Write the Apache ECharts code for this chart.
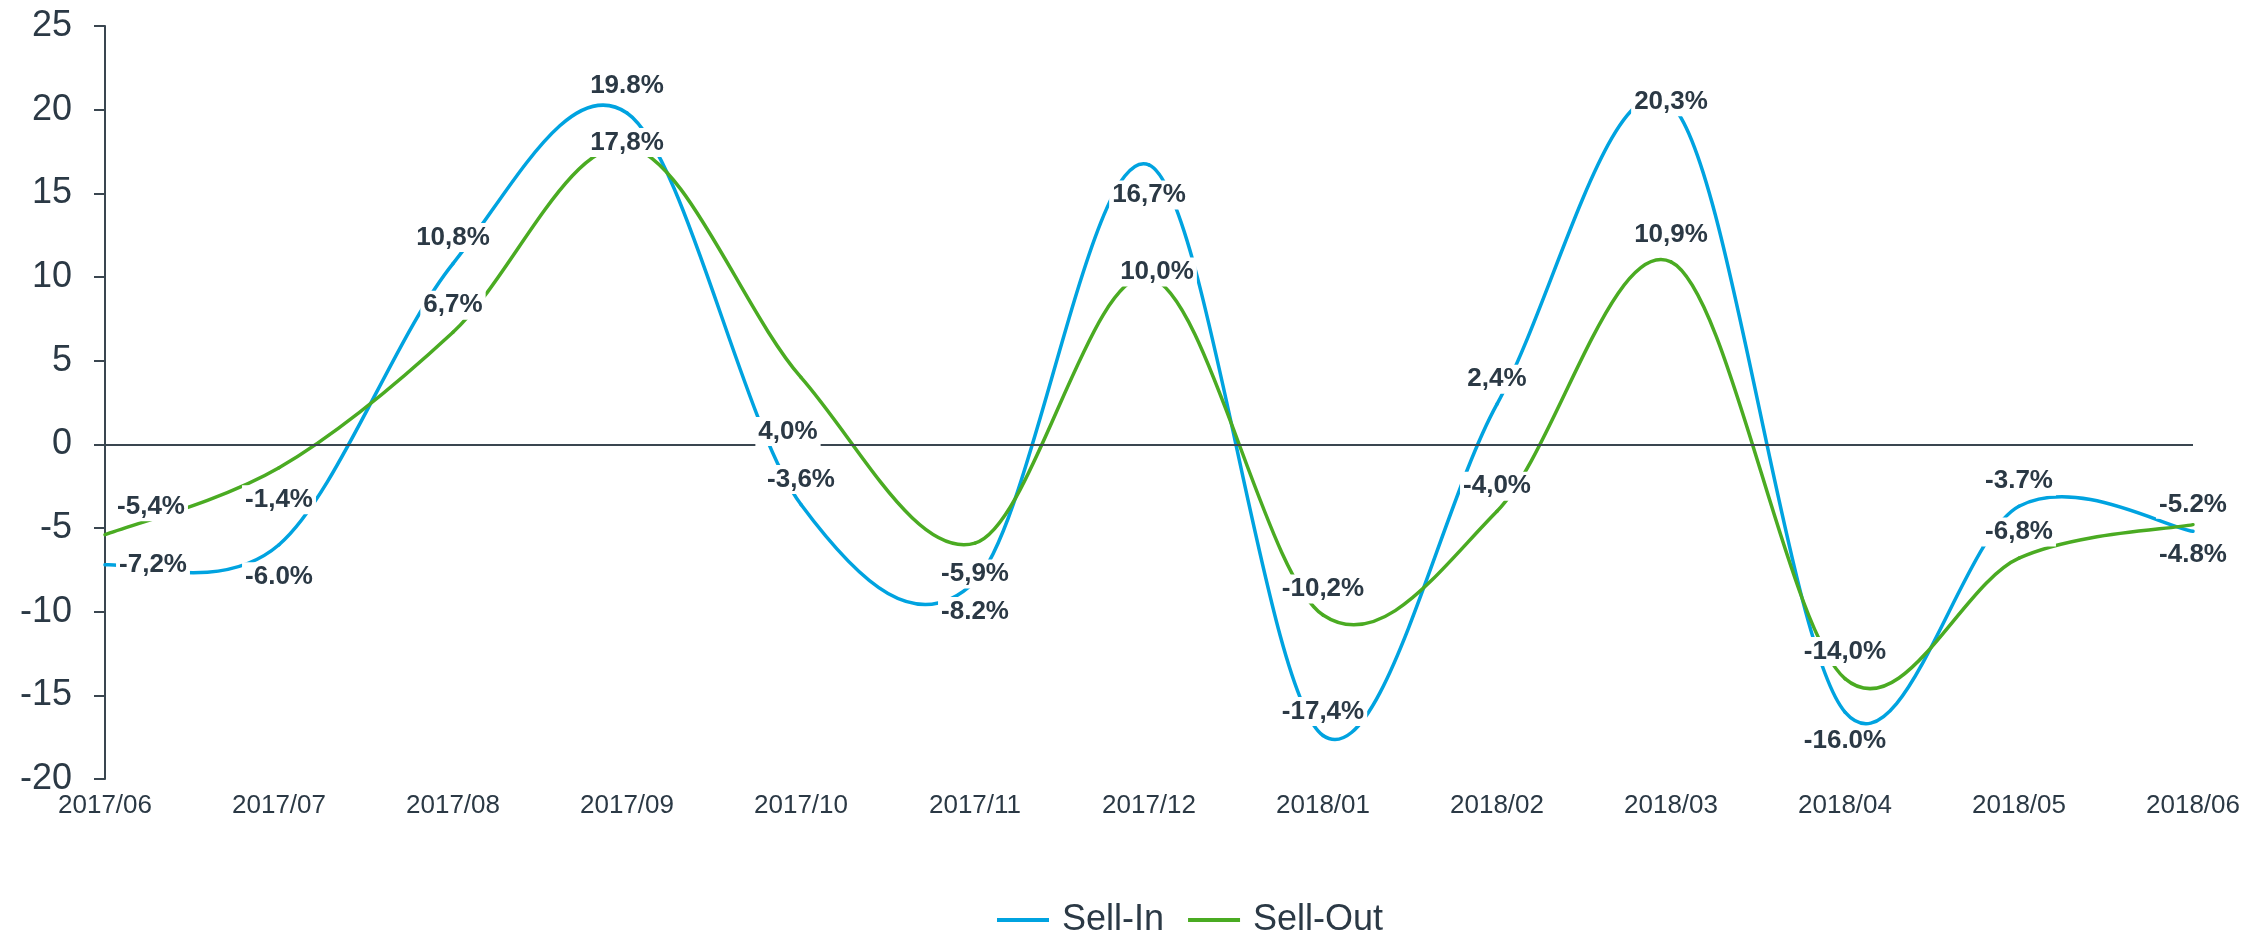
<!DOCTYPE html>
<html>
<head>
<meta charset="utf-8">
<script src="https://cdn.jsdelivr.net/npm/echarts@6/dist/echarts.min.js"></script>
<style>
html,body{margin:0;padding:0;background:#fff;}
#chart{width:2262px;height:935px;}
</style>
</head>
<body>
<div id="chart"></div>
<script>
// ---- data ----
var categories = ['2017/06','2017/07','2017/08','2017/09','2017/10','2017/11','2017/12','2018/01','2018/02','2018/03','2018/04','2018/05','2018/06'];
var sellIn  = [-7.2, -6.0, 10.8, 19.8, -3.6, -8.2, 16.7, -17.4, 2.4, 20.3, -16.0, -3.7, -5.2];
var sellOut = [-5.4, -1.4, 6.7, 17.8, 4.0, -5.9, 10.0, -10.2, -4.0, 10.9, -14.0, -6.8, -4.8];
var sellInLabels  = ['-7,2%','-6.0%','10,8%','19.8%','-3,6%','-8.2%','16,7%','-17,4%','2,4%','20,3%','-16.0%','-3.7%','-5.2%'];
var sellOutLabels = ['-5,4%','-1,4%','6,7%','17,8%','4,0%','-5,9%','10,0%','-10,2%','-4,0%','10,9%','-14,0%','-6,8%','-4.8%'];
var yTicks = {min: -20, max: 25, interval: 5};

// ---- label placement (style: px offsets from each point) ----
var sellInOffsets  = [[48,0],[0,32],[0,-26],[0,-27],[0,-25],[0,30],[0,30],[0,-24],[0,-25],[0,-3],[0,29],[0,-25],[0,-27]];
var sellOutOffsets = [[46,-28],[0,32],[0,-27],[0,-4],[-13,54],[0,31],[8,-5],[0,-26],[0,-25],[0,-27],[0,-27],[0,-26],[0,30]];

var TEXT = '#2b3945';
var AXIS = '#3a4650';
var FONT = "'Liberation Sans', Arial, sans-serif";
var BLUE = '#00a3e0';
var GREEN = '#4aab22';

function buildLabelData(values, labels, offsets) {
  return values.map(function (v, i) {
    return {
      value: v,
      label: {position: 'inside', offset: offsets[i], formatter: labels[i]}
    };
  });
}

// Smooth curve (Catmull-Rom style bezier segments) placed through the axes' scales
function curveRenderer(values, color) {
  return function (params, api) {
    var i = params.dataIndex;
    var n = values.length;
    if (i >= n - 1) return null;
    var p0 = api.coord([Math.max(i - 1, 0), values[Math.max(i - 1, 0)]]);
    var p1 = api.coord([i, values[i]]);
    var p2 = api.coord([i + 1, values[i + 1]]);
    var p3 = api.coord([Math.min(i + 2, n - 1), values[Math.min(i + 2, n - 1)]]);
    var k = 1 / 6;
    return {
      type: 'bezierCurve',
      shape: {
        x1: p1[0], y1: p1[1],
        x2: p2[0], y2: p2[1],
        cpx1: p1[0] + (p2[0] - p0[0]) * k,
        cpy1: p1[1] + (p2[1] - p0[1]) * k,
        cpx2: p2[0] - (p3[0] - p1[0]) * k,
        cpy2: p2[1] - (p3[1] - p1[1]) * k
      },
      style: {stroke: color, lineWidth: 3.5, fill: null, lineCap: 'round'},
      silent: true
    };
  };
}

var labelStyle = {
  show: true,
  color: TEXT,
  fontFamily: FONT,
  fontWeight: 'bold',
  fontSize: 26,
  backgroundColor: '#ffffff',
  padding: [2, 3, 1, 3]
};

var chart = echarts.init(document.getElementById('chart'), null, {renderer: 'canvas'});
chart.setOption({
  backgroundColor: '#ffffff',
  animation: false,
  grid: {left: 105, right: 69, top: 26, bottom: 156, containLabel: false},
  legend: {
    left: 992,
    top: 897,
    icon: 'rect',
    itemWidth: 52,
    itemHeight: 4,
    itemGap: 24,
    textStyle: {color: TEXT, fontFamily: FONT, fontSize: 36, padding: [0, 0, 0, 8]},
    data: [{name: 'Sell-In', itemStyle: {color: BLUE}}, {name: 'Sell-Out', itemStyle: {color: GREEN}}]
  },
  xAxis: {
    type: 'category',
    data: categories,
    boundaryGap: false,
    axisLine: {show: false, onZero: false},
    axisTick: {show: false},
    splitLine: {show: false},
    axisLabel: {color: TEXT, fontFamily: FONT, fontSize: 26, margin: 14, interval: 0}
  },
  yAxis: {
    type: 'value',
    min: yTicks.min,
    max: yTicks.max,
    interval: yTicks.interval,
    axisLine: {show: true, lineStyle: {color: AXIS, width: 2}},
    axisTick: {show: true, length: 11, lineStyle: {color: AXIS, width: 2}},
    splitLine: {show: false},
    axisLabel: {color: TEXT, fontFamily: FONT, fontSize: 36, margin: 33}
  },
  series: [
    {
      name: 'Sell-In',
      type: 'custom',
      color: BLUE,
      clip: false,
      z: 2,
      renderItem: curveRenderer(sellIn, BLUE),
      data: sellIn.map(function (v, i) { return [i, v]; }),
      encode: {x: 0, y: 1},
      markLine: {
        silent: true,
        symbol: 'none',
        label: {show: false},
        lineStyle: {color: AXIS, width: 2, type: 'solid'},
        data: [{yAxis: 0}]
      }
    },
    {
      name: 'Sell-Out',
      type: 'custom',
      color: GREEN,
      clip: false,
      z: 3,
      renderItem: curveRenderer(sellOut, GREEN),
      data: sellOut.map(function (v, i) { return [i, v]; }),
      encode: {x: 0, y: 1}
    },
    {
      name: 'Sell-In',
      type: 'line',
      color: BLUE,
      symbol: 'circle',
      symbolSize: 1,
      showAllSymbol: true,
      lineStyle: {opacity: 0},
      label: labelStyle,
      data: buildLabelData(sellIn, sellInLabels, sellInOffsets),
      z: 10
    },
    {
      name: 'Sell-Out',
      type: 'line',
      color: GREEN,
      symbol: 'circle',
      symbolSize: 1,
      showAllSymbol: true,
      lineStyle: {opacity: 0},
      label: labelStyle,
      data: buildLabelData(sellOut, sellOutLabels, sellOutOffsets),
      z: 11
    }
  ]
});
</script>
</body>
</html>
